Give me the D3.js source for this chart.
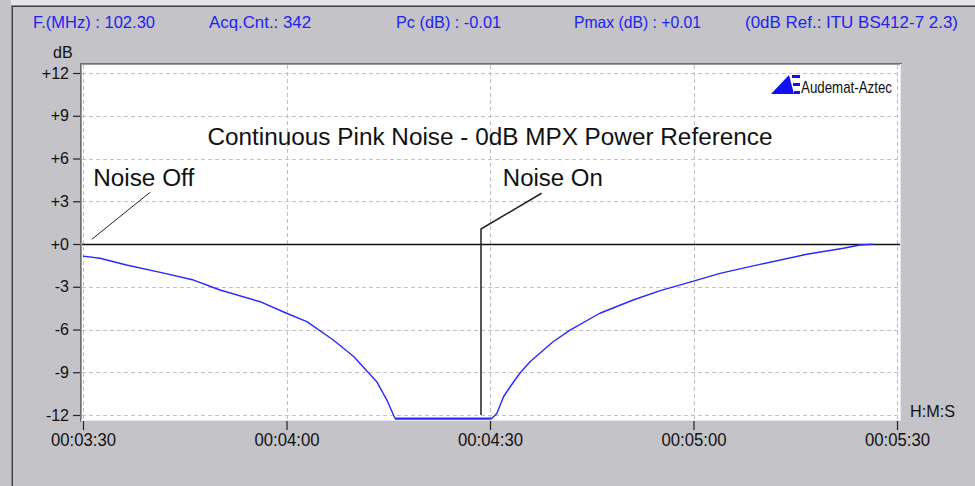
<!DOCTYPE html>
<html>
<head>
<meta charset="utf-8">
<script src="https://cdn.jsdelivr.net/npm/d3@7"></script>
<style>
html,body{margin:0;padding:0;background:#c4c3c8;}
svg{display:block;font-family:"Liberation Sans",Arial,sans-serif;}
</style>
</head>
<body>
<svg id="chart" width="975" height="486"></svg>
<script>
// ---- Data (time in seconds after 00:03:30, level in dB) ----
const decayTime  = [0, 2.5, 6.4, 11.4, 16.3, 20.2, 26.1, 30.0, 33.0, 36.9, 39.9, 43.3, 44.8, 46.0];
const decayLevel = [-0.85, -1.0, -1.47, -1.99, -2.53, -3.23, -4.05, -4.86, -5.45, -6.74, -7.9, -9.66, -10.95, -12.25];
const floorTime  = [46.0, 60.25];
const floorLevel = [-12.25, -12.25];
const riseTime   = [60.25, 61.0, 62.0, 63.0, 64.4, 65.9, 69.3, 71.8, 76.2, 81.1, 85.1, 90.0, 93.9, 99.8, 106.7, 112.1, 114.5, 116.5];
const riseLevel  = [-12.25, -11.9, -10.72, -10.0, -9.07, -8.26, -6.86, -6.04, -4.86, -3.93, -3.27, -2.6, -2.06, -1.43, -0.72, -0.3, -0.07, -0.02];

const yTickValues = [12, 9, 6, 3, 0, -3, -6, -9, -12];
const yTickLabels = ["+12", "+9", "+6", "+3", "+0", "-3", "-6", "-9", "-12"];
const xTickValues = [0, 30, 60, 90, 120];
const xTickLabels = ["00:03:30", "00:04:00", "00:04:30", "00:05:00", "00:05:30"];

const headerLabels = ["F.(MHz) : 102.30", "Acq.Cnt.: 342", "Pc (dB) : -0.01", "Pmax (dB) : +0.01", "(0dB Ref.: ITU BS412-7 2.3)"];
const chartTitle = "Continuous Pink Noise - 0dB MPX Power Reference";
// annotations in data units: [time, dB]
const noiseOffLabel = [1.5, 4.04];
const noiseOffLine  = [[1.3, 0.33], [9.9, 3.63]];
const noiseOnLabel  = [61.9, 4.04];
const noiseOnLine   = [[58.67, -12], [58.67, 1.05], [67.6, 3.56]];

// ---- Layout ----
const svg = d3.select("#chart");
const W = 975, H = 486;
const plot = {left: 82, right: 900, top: 65, bottom: 420};
const x = d3.scaleLinear().domain([0, 120]).range([83, 897]);
const y = d3.scaleLinear().domain([-12, 12]).range([415, 73]);

// window chrome
svg.append("rect").attr("x",0).attr("y",0).attr("width",W).attr("height",H).attr("fill","#c4c3c8");
svg.append("rect").attr("x",0).attr("y",0).attr("width",W).attr("height",5).attr("fill","#e6e5e8");
svg.append("rect").attr("x",0).attr("y",0).attr("width",11).attr("height",H).attr("fill","#c4c3c8");
svg.append("line").attr("x1",11).attr("x2",W).attr("y1",5.5).attr("y2",5.5).attr("stroke","#8a898e").attr("stroke-width",1);
svg.append("line").attr("x1",12).attr("x2",W).attr("y1",6.5).attr("y2",6.5).attr("stroke","#404040").attr("stroke-width",1);
svg.append("line").attr("x1",11.5).attr("x2",11.5).attr("y1",5).attr("y2",H).attr("stroke","#8a898e").attr("stroke-width",1);
svg.append("line").attr("x1",12.5).attr("x2",12.5).attr("y1",6).attr("y2",H).attr("stroke","#404040").attr("stroke-width",1);

// header
const headerX = [33, 209, 396, 574, 745];
const headerW = [122, 102, 105, 127, 213];
svg.append("g").selectAll("text").data(headerLabels).join("text")
  .attr("x",(d,i)=>headerX[i]).attr("y",28)
  .attr("font-size",16.5).attr("fill","#2222f0")
  .attr("textLength",(d,i)=>headerW[i]).attr("lengthAdjust","spacingAndGlyphs")
  .text(d=>d);

// plot area with sunken border
svg.append("rect").attr("x",plot.left).attr("y",plot.top).attr("width",plot.right-plot.left).attr("height",plot.bottom-plot.top).attr("fill","#ffffff");
svg.append("line").attr("x1",80.5).attr("x2",80.5).attr("y1",63).attr("y2",plot.bottom+2).attr("stroke","#6e6e6e").attr("stroke-width",1);
svg.append("line").attr("x1",81.5).attr("x2",81.5).attr("y1",64).attr("y2",plot.bottom+1).attr("stroke","#9a9a9a").attr("stroke-width",1);
svg.append("line").attr("x1",80).attr("x2",plot.right+2).attr("y1",63.5).attr("y2",63.5).attr("stroke","#6e6e6e").attr("stroke-width",1);
svg.append("line").attr("x1",81).attr("x2",plot.right+1).attr("y1",64.5).attr("y2",64.5).attr("stroke","#9a9a9a").attr("stroke-width",1);
svg.append("line").attr("x1",plot.right+0.5).attr("x2",plot.right+0.5).attr("y1",64).attr("y2",plot.bottom+1).attr("stroke","#e8e8e8").attr("stroke-width",1);
svg.append("line").attr("x1",81).attr("x2",plot.right+1).attr("y1",plot.bottom+0.5).attr("y2",plot.bottom+0.5).attr("stroke","#e8e8e8").attr("stroke-width",1);

// grid
const grid = svg.append("g").attr("stroke","#c0c0c0").attr("stroke-width",1).attr("stroke-dasharray","4,3");
grid.selectAll("line.h").data(yTickValues.filter(v=>v!==0)).join("line")
  .attr("x1",plot.left).attr("x2",plot.right)
  .attr("y1",d=>Math.round(y(d))+0.5).attr("y2",d=>Math.round(y(d))+0.5);
grid.selectAll("line.v").data(xTickValues).join("line")
  .attr("y1",plot.top).attr("y2",plot.bottom)
  .attr("x1",d=>Math.round(x(d))+0.5).attr("x2",d=>Math.round(x(d))+0.5);

// zero reference line
svg.append("line").attr("x1",plot.left).attr("x2",plot.right)
  .attr("y1",Math.round(y(0))+0.5).attr("y2",Math.round(y(0))+0.5)
  .attr("stroke","#111").attr("stroke-width",1.5);

// axes
const yAxis = d3.axisLeft(y).tickValues(yTickValues).tickFormat((d,i)=>yTickLabels[i]).tickSize(7).tickPadding(4);
const gy = svg.append("g").attr("transform","translate(80,0)").call(yAxis);
gy.select(".domain").remove();
gy.selectAll("line").attr("stroke","#222").attr("stroke-width",1.2);
gy.selectAll("text").attr("font-size",16).attr("fill","#111").attr("font-family","Liberation Sans, Arial, sans-serif");

const xAxis = d3.axisBottom(x).tickValues(xTickValues).tickFormat((d,i)=>xTickLabels[i]).tickSize(9).tickPadding(3);
const gx = svg.append("g").attr("transform","translate(0,421)").call(xAxis);
gx.select(".domain").remove();
gx.selectAll("line").attr("stroke","#222").attr("stroke-width",1.2);
gx.selectAll("text").attr("font-size",18).attr("fill","#111").attr("font-family","Liberation Sans, Arial, sans-serif")
  .attr("textLength",65).attr("lengthAdjust","spacingAndGlyphs");

svg.append("text").attr("x",53).attr("y",58).attr("font-size",16).attr("fill","#111").text("dB");
svg.append("text").attr("x",910).attr("y",417).attr("font-size",17).attr("fill","#111")
  .attr("textLength",45).attr("lengthAdjust","spacingAndGlyphs").text("H:M:S");

// annotations
const lineGen = d3.line().x(d=>x(d[0])).y(d=>y(d[1]));
svg.append("path").attr("d",lineGen(noiseOffLine)).attr("fill","none").attr("stroke","#222").attr("stroke-width",1);
svg.append("path").attr("d",lineGen(noiseOnLine)).attr("fill","none").attr("stroke","#222").attr("stroke-width",1.5);
svg.append("text").attr("x",x(noiseOffLabel[0])).attr("y",y(noiseOffLabel[1])).attr("font-size",23).attr("fill","#111")
  .attr("textLength",101).attr("lengthAdjust","spacingAndGlyphs").text("Noise Off");
svg.append("text").attr("x",x(noiseOnLabel[0])).attr("y",y(noiseOnLabel[1])).attr("font-size",23).attr("fill","#111")
  .attr("textLength",100).attr("lengthAdjust","spacingAndGlyphs").text("Noise On");
svg.append("text").attr("x",x(60)).attr("y",y(6.95)).attr("text-anchor","middle").attr("font-size",23).attr("fill","#111")
  .attr("textLength",565).attr("lengthAdjust","spacingAndGlyphs").text(chartTitle);

// logo
const logo = svg.append("g").attr("fill","#1010f0");
logo.append("path").attr("d","M771,94 L789,75 L794,94 Z");
logo.append("rect").attr("x",792).attr("y",75).attr("width",8).attr("height",3);
logo.append("rect").attr("x",793).attr("y",83).attr("width",7).attr("height",3);
logo.append("rect").attr("x",794).attr("y",91).attr("width",6).attr("height",3);
svg.append("text").attr("x",801).attr("y",93).attr("font-size",17).attr("fill","#111")
  .attr("textLength",91).attr("lengthAdjust","spacingAndGlyphs").text("Audemat-Aztec");

// measurement curve
const curve = d3.line().x(d=>x(d[0])).y(d=>y(d[1]));
const seriesBlue = [
  d3.zip(decayTime, decayLevel),
  d3.zip(floorTime, floorLevel),
  d3.zip(riseTime, riseLevel)
];
svg.append("g").selectAll("path").data(seriesBlue).join("path")
  .attr("d",curve).attr("fill","none").attr("stroke","#2828ff")
  .attr("stroke-width",(d,i)=>i===1?2.2:1.4).attr("stroke-linejoin","round");
</script>
</body>
</html>
